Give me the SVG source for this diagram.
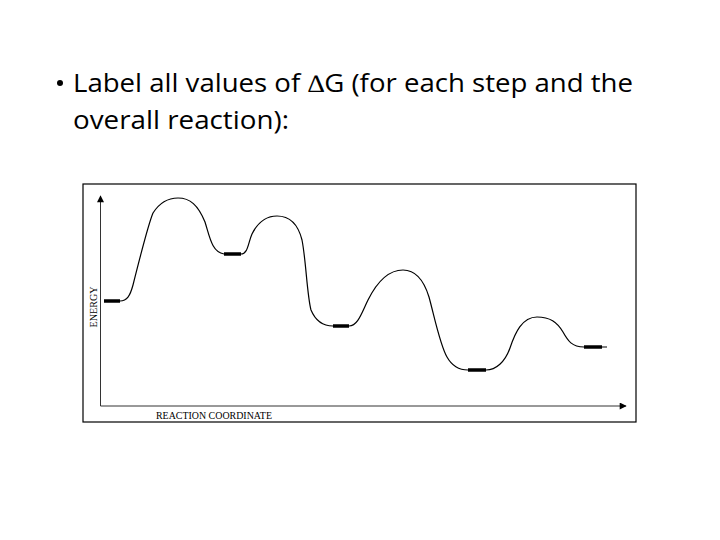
<svg xmlns="http://www.w3.org/2000/svg" width="720" height="540" viewBox="0 0 720 540">
<style>
.title{font-family:"Open Sans","Liberation Sans",sans-serif;font-size:25px;fill:#000}
.sym{font-family:"Liberation Serif",serif}
.ax{font-family:"Liberation Serif",serif;font-size:10.5px;fill:#000}
.curve{fill:none;stroke:#000;stroke-width:1.2}
.bar{stroke:#000;stroke-width:3.5}
.axis{stroke:#333;stroke-width:1}
</style>
<defs>
<marker id="ah" viewBox="0 0 10 10" refX="9" refY="5" markerWidth="11" markerHeight="7" markerUnits="userSpaceOnUse" orient="auto">
<path d="M0,0 L10,5 L0,10 z" fill="#000"/>
</marker>
</defs>
<rect width="720" height="540" fill="#fff"/>
<g id="title">
<circle cx="60" cy="83" r="3" fill="#000"/>
<text class="title" x="73" y="92" textLength="560" lengthAdjust="spacingAndGlyphs">Label all values of <tspan class="sym">∆</tspan>G (for each step and the</text>
<text class="title" x="73" y="129" textLength="216" lengthAdjust="spacingAndGlyphs">overall reaction):</text>
</g>
<g id="chart">
<rect x="83" y="184" width="553" height="238" fill="none" stroke="#000" stroke-width="1.2"/>
<g id="axes">
<line class="axis" x1="100.5" y1="406" x2="100.5" y2="196" marker-end="url(#ah)"/>
<line class="axis" x1="100.5" y1="406" x2="626" y2="406" marker-end="url(#ah)"/>
<text class="ax" transform="translate(97,307) rotate(-90)" text-anchor="middle" textLength="41" lengthAdjust="spacingAndGlyphs">ENERGY</text>
<text class="ax" x="156" y="419" textLength="116" lengthAdjust="spacingAndGlyphs">REACTION COORDINATE</text>
</g>
<g id="curve">
<path class="curve" d="M120,301 C127,301 130,296 133,285 C138,265 148,225 153,213 C160,202 168,198 178,198 C190,198 198,205 205,222 C210,238 212,252 224,254"/>
<path class="curve" d="M241,254 C248,254 248,243 252,234 C258,222 266,216 277,216 C290,216 298,224 302,240 C306,260 307,295 311,310 C316,322 325,326 333,326"/>
<path class="curve" d="M349,326 C358,326 362,312 368,300 C376,284 388,270 403,270 C418,270 425,284 429,297 C434,315 440,345 447,357 C452,366 460,370 468,370"/>
<path class="curve" d="M486,370 C496,370 505,362 510,348 C515,333 522,317 537,317 C550,317 557,322 563,332 C568,341 572,347 584,347 L607,347"/>
</g>
<g id="levels">
<line class="bar" x1="104" y1="301" x2="120" y2="301"/>
<line class="bar" x1="224" y1="254" x2="241" y2="254"/>
<line class="bar" x1="333" y1="326" x2="349" y2="326"/>
<line class="bar" x1="468" y1="370" x2="486" y2="370"/>
<line class="bar" x1="584" y1="347" x2="602" y2="347"/>
</g>
</g>
</svg>
